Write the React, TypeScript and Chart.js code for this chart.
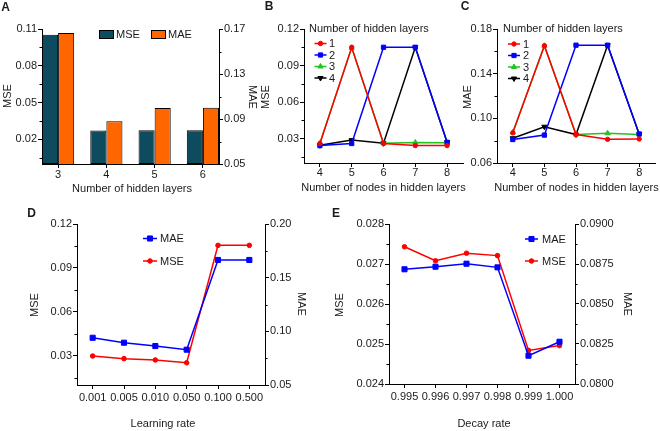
import React, { useEffect, useRef } from 'react';
import { Chart, registerables } from 'chart.js';

Chart.register(...registerables);

const W = 660;
const H = 431;
const FF = "'Liberation Sans', Arial, Helvetica, sans-serif";
const TEXT = '#1a1a1a';
const TEAL = '#0d4b5e';
const ORANGE = '#ff6600';
const RED = '#ff0000';
const BLUE = '#0000ff';
const GREEN = '#22c422';
const BLACK = '#000000';

// ---------- Panel A: bars vs number of hidden layers ----------
const layersA = [3, 4, 5, 6];
const mseA = [0.1054, 0.0272, 0.0276, 0.0276];
const maeA = [0.1665, 0.088, 0.0997, 0.1];
const ticksA_mse = [0.02, 0.05, 0.08, 0.11];
const minorA_mse = [0.005, 0.035, 0.065, 0.095];
const ticksA_mae = [0.05, 0.09, 0.13, 0.17];
const minorA_mae = [0.07, 0.11, 0.15];

// ---------- Panels B/C: nodes in hidden layers ----------
const nodes = ['4', '5', '6', '7', '8'];
const layerNames = ['1', '2', '3', '4'];
const mseB_L1 = [0.026, 0.105, 0.026, 0.0243, 0.0243];
const mseB_L2 = [0.0243, 0.026, 0.105, 0.105, 0.027];
const mseB_L3 = [0.0262, 0.1045, 0.0262, 0.0268, 0.0266];
const mseB_L4 = [0.0245, 0.0288, 0.0262, 0.105, 0.027];
const ticksB = [0.03, 0.06, 0.09, 0.12];
const minorB = [0.015, 0.045, 0.075, 0.105];

const maeC_L1 = [0.087, 0.165, 0.0855, 0.0812, 0.0815];
const maeC_L2 = [0.081, 0.085, 0.1655, 0.1655, 0.086];
const maeC_L3 = [0.0875, 0.165, 0.0855, 0.0866, 0.0855];
const maeC_L4 = [0.0822, 0.0925, 0.0855, 0.1655, 0.0858];
const ticksC = [0.06, 0.1, 0.14, 0.18];
const minorC = [0.08, 0.12, 0.16];

// ---------- Panel D: learning rate ----------
const learningRates = ['0.001', '0.005', '0.010', '0.050', '0.100', '0.500'];
const maeD = [0.094, 0.0894, 0.0863, 0.0829, 0.1665, 0.1665];
const mseD = [0.0298, 0.028, 0.0271, 0.0252, 0.1054, 0.1054];
const ticksD_mse = [0.03, 0.06, 0.09, 0.12];
const minorD_mse = [0.015, 0.045, 0.075, 0.105];
const ticksD_mae = [0.05, 0.1, 0.15, 0.2];
const minorD_mae = [0.075, 0.125, 0.175];

// ---------- Panel E: decay rate ----------
const decayRates = ['0.995', '0.996', '0.997', '0.998', '0.999', '1.000'];
const maeE = [0.08717, 0.08733, 0.08752, 0.08729, 0.08177, 0.08264];
const mseE = [0.02743, 0.02708, 0.02727, 0.02721, 0.02484, 0.02496];
const ticksE_mse = [0.024, 0.025, 0.026, 0.027, 0.028];
const minorE_mse = [0.0245, 0.0255, 0.0265, 0.0275];
const ticksE_mae = [0.08, 0.0825, 0.085, 0.0875, 0.09];
const minorE_mae = [0.08125, 0.08375, 0.08625, 0.08875];

type Area = { l: number; r: number; t: number; b: number };

const LW = 40;
const RW = 48;
const XH = 22;

function baseOptions(area: Area, hasRight: boolean) {
  return {
    responsive: false,
    animation: false,
    events: [],
    devicePixelRatio: 1,
    layout: {
      padding: {
        left: area.l - LW,
        right: W - area.r - (hasRight ? RW : 0),
        top: area.t,
        bottom: H - area.b - XH,
      },
    },
    plugins: { legend: { display: false }, tooltip: { enabled: false }, title: { display: false } },
  };
}

function tickFont() {
  return { family: FF, size: 11, lineHeight: 1 };
}

function yAxis(pos: string, min: number, max: number, ticks: number[], digits: number, pad = 1) {
  return {
    type: 'linear',
    position: pos,
    min,
    max,
    beginAtZero: false,
    afterBuildTicks: (s: any) => {
      s.ticks = ticks.map((v) => ({ value: v }));
    },
    afterFit: (s: any) => {
      s.width = pos === 'left' ? LW : RW;
    },
    ticks: {
      autoSkip: false,
      padding: pad,
      color: TEXT,
      font: tickFont(),
      callback: (v: any) => Number(v).toFixed(digits),
    },
    grid: { display: true, drawOnChartArea: false, drawTicks: true, tickLength: 4, tickWidth: 1, tickColor: '#000', color: '#000' },
    border: { display: true, color: '#000', width: 1 },
  };
}

function xCategory(labels: string[], pad: number) {
  return {
    type: 'category',
    labels,
    offset: true,
    position: 'bottom',
    afterFit: (s: any) => {
      s.height = XH;
    },
    ticks: { autoSkip: false, maxRotation: 0, minRotation: 0, padding: pad, color: TEXT, font: tickFont() },
    grid: { offset: false, display: true, drawOnChartArea: false, drawTicks: true, tickLength: 4, tickColor: '#000', color: '#000' },
    border: { display: true, color: '#000', width: 1 },
  };
}

function lineDs(label: string, data: number[], color: string, style: string, r: number, rot: number, yAxisID = 'y') {
  return {
    label,
    data,
    borderColor: color,
    backgroundColor: color,
    borderWidth: 1.5,
    pointStyle: style,
    pointRadius: r,
    pointRotation: rot,
    pointBackgroundColor: color,
    pointBorderColor: color,
    pointBorderWidth: 1,
    tension: 0,
    fill: false,
    clip: false,
    yAxisID,
  };
}

function minorTickPlugin(spec: Record<string, number[]>) {
  return {
    id: 'minorTicks',
    afterDraw(chart: any) {
      const ctx = chart.ctx;
      ctx.save();
      ctx.strokeStyle = '#000';
      ctx.lineWidth = 1;
      Object.keys(spec).forEach((id) => {
        const s = chart.scales[id];
        if (!s) return;
        const left = s.position === 'left';
        const x0 = left ? s.right : s.left;
        spec[id].forEach((v) => {
          const y = Math.round(s.getPixelForValue(v)) + 0.5;
          ctx.beginPath();
          ctx.moveTo(x0, y);
          ctx.lineTo(left ? x0 - 2.5 : x0 + 2.5, y);
          ctx.stroke();
        });
      });
      ctx.restore();
    },
  };
}

function drawMarker(ctx: CanvasRenderingContext2D, style: string, x: number, y: number, r: number, color: string, rot = 0) {
  ctx.save();
  ctx.fillStyle = color;
  ctx.strokeStyle = color;
  ctx.lineWidth = 1;
  ctx.beginPath();
  if (style === 'circle') {
    ctx.arc(x, y, r, 0, Math.PI * 2);
  } else if (style === 'rect') {
    const s = r * Math.SQRT1_2;
    ctx.rect(x - s, y - s, 2 * s, 2 * s);
  } else {
    let rad = (rot * Math.PI) / 180;
    ctx.moveTo(x + Math.sin(rad) * r, y - Math.cos(rad) * r);
    rad += (2 * Math.PI) / 3;
    ctx.lineTo(x + Math.sin(rad) * r, y - Math.cos(rad) * r);
    rad += (2 * Math.PI) / 3;
    ctx.lineTo(x + Math.sin(rad) * r, y - Math.cos(rad) * r);
    ctx.closePath();
  }
  ctx.fill();
  ctx.stroke();
  ctx.restore();
}

function legendPlugin(draw: (ctx: CanvasRenderingContext2D, chart: any) => void) {
  return {
    id: 'customLegend',
    afterDraw(chart: any) {
      const ctx = chart.ctx;
      ctx.save();
      draw(ctx, chart);
      ctx.restore();
    },
  };
}

function lineLegendDraw(
  title: string | null,
  titleX: number,
  titleY: number,
  x1: number,
  x2: number,
  textX: number,
  rows: number[],
) {
  return (ctx: CanvasRenderingContext2D, chart: any) => {
    ctx.font = `11px ${FF}`;
    ctx.fillStyle = TEXT;
    ctx.textBaseline = 'middle';
    ctx.textAlign = 'left';
    if (title) ctx.fillText(title, titleX, titleY);
    chart.data.datasets.forEach((ds: any, i: number) => {
      const y = rows[i];
      ctx.strokeStyle = ds.borderColor;
      ctx.lineWidth = 1.5;
      ctx.beginPath();
      ctx.moveTo(x1, y);
      ctx.lineTo(x2, y);
      ctx.stroke();
      drawMarker(ctx, ds.pointStyle, (x1 + x2) / 2, y, ds.pointRadius, ds.borderColor, ds.pointRotation || 0);
      ctx.fillStyle = TEXT;
      ctx.font = `11px ${FF}`;
      ctx.fillText(ds.label, textX, y + 0.5);
    });
  };
}

function makeA(canvas: HTMLCanvasElement) {
  const area = { l: 42, r: 219, t: 29, b: 164 };
  const barCommon = { borderColor: '#000', borderWidth: 1, borderSkipped: false, categoryPercentage: 2 / 3, barPercentage: 1 };
  return new Chart(canvas, {
    type: 'bar',
    data: {
      datasets: [
        { label: 'MSE', data: layersA.map((x, i) => ({ x, y: mseA[i] })), yAxisID: 'y', backgroundColor: TEAL, ...barCommon },
        { label: 'MAE', data: layersA.map((x, i) => ({ x, y: maeA[i] })), yAxisID: 'y1', backgroundColor: ORANGE, ...barCommon },
      ],
    } as any,
    options: {
      ...baseOptions(area, true),
      scales: {
        x: {
          type: 'linear',
          position: 'bottom',
          min: layersA[0] - 1 / 3,
          max: layersA[layersA.length - 1] + 1 / 3,
          offset: false,
          afterBuildTicks: (s: any) => {
            s.ticks = layersA.map((v) => ({ value: v }));
          },
          afterFit: (s: any) => {
            s.height = XH;
          },
          ticks: { autoSkip: false, maxRotation: 0, padding: 1, color: TEXT, font: tickFont(), callback: (v: any) => String(v) },
          grid: { offset: false, display: true, drawOnChartArea: false, drawTicks: true, tickLength: 4, tickColor: '#000', color: '#000' },
          border: { display: true, color: '#000', width: 1 },
        },
        y: yAxis('left', 0, 0.11, ticksA_mse, 2),
        y1: yAxis('right', 0.05, 0.17, ticksA_mae, 2),
      },
    } as any,
    plugins: [
      minorTickPlugin({ y: minorA_mse, y1: minorA_mae }),
      legendPlugin((ctx, chart) => {
        const items = chart.data.datasets;
        const xs = [99, 151];
        items.forEach((ds: any, i: number) => {
          ctx.fillStyle = ds.backgroundColor;
          ctx.fillRect(xs[i], 30, 15, 9);
          ctx.strokeStyle = '#000';
          ctx.lineWidth = 1;
          ctx.strokeRect(xs[i] + 0.5, 30.5, 14, 8);
          ctx.fillStyle = TEXT;
          ctx.font = `11px ${FF}`;
          ctx.textBaseline = 'middle';
          ctx.fillText(ds.label, xs[i] + 17, 35);
        });
      }),
    ] as any,
  });
}

function makeNodes(canvas: HTMLCanvasElement, area: Area, series: number[][], min: number, max: number, ticks: number[], minor: number[], legendPos: { tx: number; x1: number; x2: number; textX: number; rows: number[] }) {
  const styles = [
    { c: RED, s: 'circle', r: 2.2, rot: 0 },
    { c: BLUE, s: 'rect', r: 3, rot: 0 },
    { c: GREEN, s: 'triangle', r: 3, rot: 0 },
    { c: BLACK, s: 'triangle', r: 3, rot: 180 },
  ];
  return new Chart(canvas, {
    type: 'line',
    data: {
      labels: nodes,
      datasets: series.map((d, i) => lineDs(layerNames[i], d, styles[i].c, styles[i].s, styles[i].r, styles[i].rot)),
    } as any,
    options: {
      ...baseOptions(area, false),
      scales: {
        x: xCategory(nodes, 0),
        y: yAxis('left', min, max, ticks, 2),
      },
    } as any,
    plugins: [
      minorTickPlugin({ y: minor }),
      legendPlugin(lineLegendDraw('Number of hidden layers', legendPos.tx, 29, legendPos.x1, legendPos.x2, legendPos.textX, legendPos.rows)),
    ] as any,
  });
}

function makeDual(
  canvas: HTMLCanvasElement,
  area: Area,
  labels: string[],
  mae: number[],
  mse: number[],
  yMin: number,
  yMax: number,
  yTicks: number[],
  yMinor: number[],
  yDigits: number,
  y1Min: number,
  y1Max: number,
  y1Ticks: number[],
  y1Minor: number[],
  y1Digits: number,
  leg: { x1: number; x2: number; textX: number; rows: number[] },
) {
  return new Chart(canvas, {
    type: 'line',
    data: {
      labels,
      datasets: [lineDs('MAE', mae, BLUE, 'rect', 3.6, 0, 'y1'), lineDs('MSE', mse, RED, 'circle', 2.3, 0, 'y')],
    } as any,
    options: {
      ...baseOptions(area, true),
      scales: {
        x: xCategory(labels, 3),
        y: yAxis('left', yMin, yMax, yTicks, yDigits),
        y1: yAxis('right', y1Min, y1Max, y1Ticks, y1Digits),
      },
    } as any,
    plugins: [
      minorTickPlugin({ y: yMinor, y1: y1Minor }),
      legendPlugin(lineLegendDraw(null, 0, 0, leg.x1, leg.x2, leg.textX, leg.rows)),
    ] as any,
  });
}

const textLabels = [
  { t: 'A', x: 5.5, y: 7, bold: true, size: 12 },
  { t: 'B', x: 269, y: 6, bold: true, size: 12 },
  { t: 'C', x: 465, y: 6, bold: true, size: 12 },
  { t: 'D', x: 31.5, y: 213, bold: true, size: 12 },
  { t: 'E', x: 336, y: 213, bold: true, size: 12 },
  { t: 'MSE', x: 7, y: 96, rot: -90 },
  { t: 'MAE', x: 251.5, y: 97, rot: 90 },
  { t: 'Number of hidden layers', x: 132, y: 188 },
  { t: 'MSE', x: 265, y: 97, rot: -90 },
  { t: 'Number of nodes in hidden layers', x: 383.5, y: 187 },
  { t: 'MAE', x: 467, y: 97, rot: -90 },
  { t: 'Number of nodes in hidden layers', x: 576.5, y: 187 },
  { t: 'MSE', x: 34, y: 305, rot: -90 },
  { t: 'MAE', x: 301, y: 304, rot: 90 },
  { t: 'Learning rate', x: 163, y: 423 },
  { t: 'MSE', x: 339, y: 305, rot: -90 },
  { t: 'MAE', x: 627, y: 304, rot: 90 },
  { t: 'Decay rate', x: 484, y: 423 },
];

export default function App() {
  const rA = useRef<HTMLCanvasElement>(null);
  const rB = useRef<HTMLCanvasElement>(null);
  const rC = useRef<HTMLCanvasElement>(null);
  const rD = useRef<HTMLCanvasElement>(null);
  const rE = useRef<HTMLCanvasElement>(null);

  useEffect(() => {
    const charts: Chart[] = [];
    charts.push(makeA(rA.current as HTMLCanvasElement));
    charts.push(
      makeNodes(rB.current as HTMLCanvasElement, { l: 304, r: 463, t: 29, b: 163 }, [mseB_L1, mseB_L2, mseB_L3, mseB_L4], 0.01, 0.12, ticksB, minorB, {
        tx: 309,
        x1: 314.5,
        x2: 326.5,
        textX: 329,
        rows: [43.5, 55, 66.5, 78],
      }),
    );
    charts.push(
      makeNodes(rC.current as HTMLCanvasElement, { l: 497, r: 656, t: 29, b: 163 }, [maeC_L1, maeC_L2, maeC_L3, maeC_L4], 0.06, 0.18, ticksC, minorC, {
        tx: 503,
        x1: 508,
        x2: 520,
        textX: 523,
        rows: [44, 55.5, 67, 78.5],
      }),
    );
    charts.push(
      makeDual(rD.current as HTMLCanvasElement, { l: 77, r: 265, t: 224, b: 385 }, learningRates, maeD, mseD, 0.01, 0.12, ticksD_mse, minorD_mse, 2, 0.05, 0.2, ticksD_mae, minorD_mae, 2, {
        x1: 143,
        x2: 157,
        textX: 160,
        rows: [238.5, 261],
      }),
    );
    charts.push(
      makeDual(rE.current as HTMLCanvasElement, { l: 389, r: 575, t: 224, b: 384 }, decayRates, maeE, mseE, 0.024, 0.028, ticksE_mse, minorE_mse, 3, 0.08, 0.09, ticksE_mae, minorE_mae, 4, {
        x1: 525,
        x2: 538,
        textX: 542,
        rows: [239, 261],
      }),
    );
    return () => charts.forEach((c) => c.destroy());
  }, []);

  const canvasStyle: React.CSSProperties = { position: 'absolute', left: 0, top: 0, width: W, height: H };
  return (
    <div style={{ position: 'absolute', left: 0, top: 0, width: W, height: H, background: '#fff', overflow: 'hidden', fontFamily: FF }}>
      <canvas ref={rA} width={W} height={H} style={canvasStyle} />
      <canvas ref={rB} width={W} height={H} style={canvasStyle} />
      <canvas ref={rC} width={W} height={H} style={canvasStyle} />
      <canvas ref={rD} width={W} height={H} style={canvasStyle} />
      <canvas ref={rE} width={W} height={H} style={canvasStyle} />
      {textLabels.map((l, i) => (
        <div
          key={i}
          style={{
            position: 'absolute',
            left: l.x,
            top: l.y,
            transform: `translate(-50%, -50%)${l.rot ? ` rotate(${l.rot}deg)` : ''}`,
            fontFamily: FF,
            fontSize: (l as any).size || 11,
            fontWeight: (l as any).bold ? 'bold' : 'normal',
            color: TEXT,
            whiteSpace: 'nowrap',
            lineHeight: 1,
          }}
        >
          {l.t}
        </div>
      ))}
    </div>
  );
}
